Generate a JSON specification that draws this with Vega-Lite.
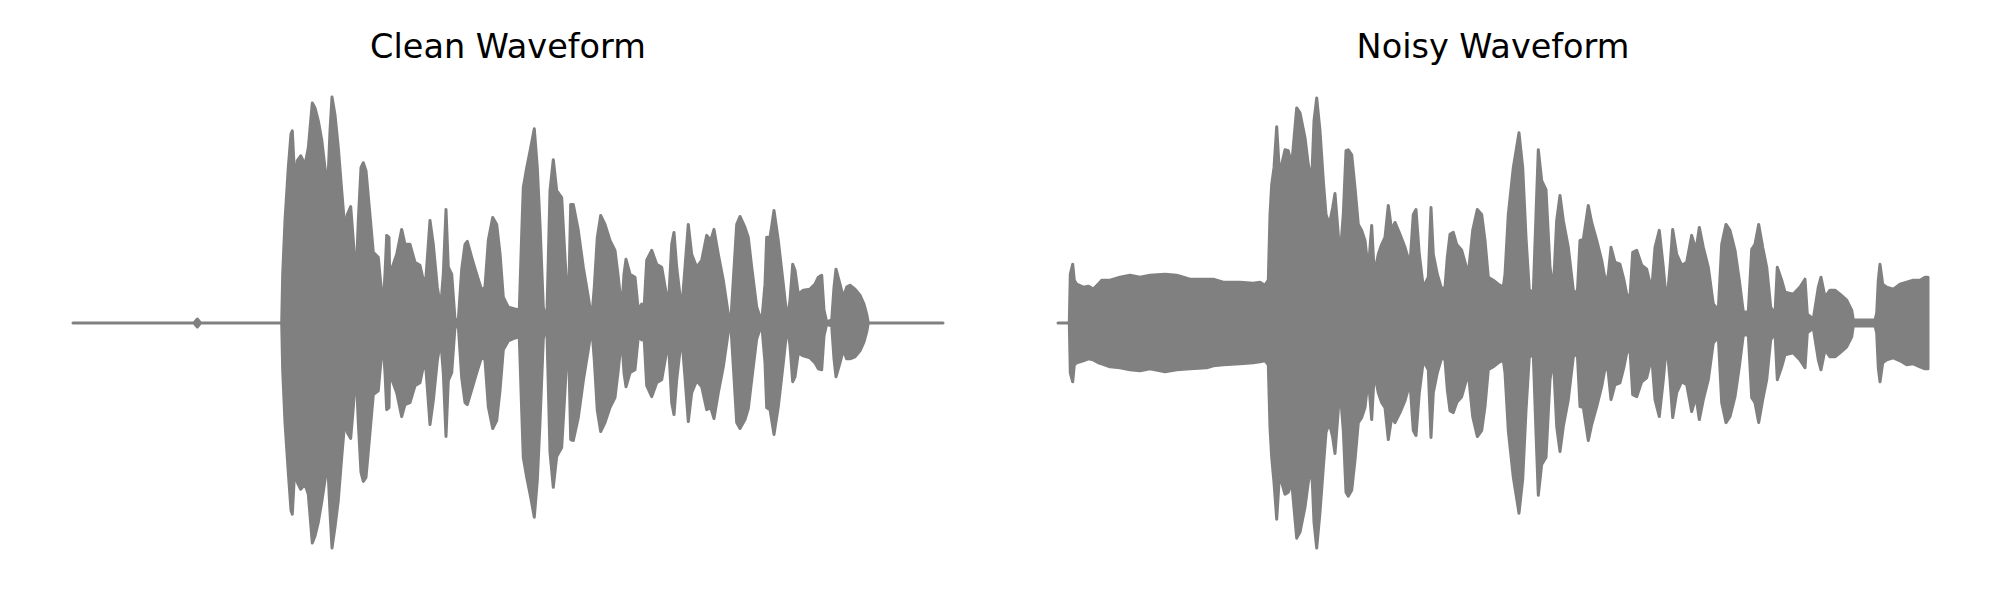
{
"$schema":"https://vega.github.io/schema/vega-lite/v6.json",
"autosize":{"type":"none"},
"padding":{"left":73,"top":93,"right":1927,"bottom":507},
"background":"white",
"config":{"view":{"stroke":null},"title":{"font":"DejaVu Sans","fontSize":33.5,"fontWeight":"normal","color":"#000000","offset":28,"frame":"group","baseline":"alphabetic","anchor":"middle"}},
"datasets":{
"clean":[{"t":0,"hi":0,"lo":0},{"t":121,"hi":0,"lo":0},{"t":124.3,"hi":4,"lo":-4},{"t":127.5,"hi":0,"lo":0},{"t":208.7,"hi":0,"lo":0},{"t":209.7,"hi":49,"lo":-48},{"t":212,"hi":103,"lo":-100},{"t":215.3,"hi":156,"lo":-150},{"t":218,"hi":190,"lo":-188},{"t":219.3,"hi":193,"lo":-192},{"t":222,"hi":139,"lo":-142},{"t":224.3,"hi":163,"lo":-160},{"t":227.7,"hi":168,"lo":-167},{"t":232,"hi":159,"lo":-162},{"t":235.3,"hi":176,"lo":-172},{"t":239.3,"hi":221,"lo":-221},{"t":242,"hi":216,"lo":-214},{"t":245.3,"hi":203,"lo":-200},{"t":248.7,"hi":184,"lo":-180},{"t":252,"hi":156,"lo":-158},{"t":254.7,"hi":136,"lo":-140},{"t":257,"hi":193,"lo":-190},{"t":259,"hi":227,"lo":-226},{"t":262,"hi":209,"lo":-205},{"t":265.3,"hi":176,"lo":-178},{"t":268.7,"hi":133,"lo":-135},{"t":272,"hi":93,"lo":-96},{"t":274.3,"hi":109,"lo":-110},{"t":277.7,"hi":117,"lo":-116},{"t":280.3,"hi":83,"lo":-85},{"t":283,"hi":43,"lo":-45},{"t":285.3,"hi":103,"lo":-100},{"t":288,"hi":156,"lo":-150},{"t":290.3,"hi":161,"lo":-159},{"t":293,"hi":153,"lo":-155},{"t":296.3,"hi":116,"lo":-118},{"t":300.3,"hi":71,"lo":-72},{"t":305.3,"hi":66,"lo":-68},{"t":308.7,"hi":29,"lo":-30},{"t":310.3,"hi":23,"lo":-24},{"t":312,"hi":49,"lo":-50},{"t":313.7,"hi":88,"lo":-87},{"t":316,"hi":86,"lo":-85},{"t":317,"hi":29,"lo":-30},{"t":319.3,"hi":56,"lo":-58},{"t":323.7,"hi":69,"lo":-70},{"t":328.7,"hi":94,"lo":-94},{"t":332,"hi":79,"lo":-82},{"t":337,"hi":79,"lo":-80},{"t":342,"hi":61,"lo":-63},{"t":347,"hi":58,"lo":-60},{"t":350.3,"hi":43,"lo":-44},{"t":353,"hi":46,"lo":-47},{"t":357,"hi":103,"lo":-102},{"t":360.3,"hi":79,"lo":-78},{"t":364.3,"hi":36,"lo":-38},{"t":367.7,"hi":16,"lo":-17},{"t":370.3,"hi":49,"lo":-50},{"t":373,"hi":114,"lo":-114},{"t":375.3,"hi":56,"lo":-58},{"t":378.7,"hi":49,"lo":-50},{"t":382,"hi":4,"lo":-4},{"t":385.3,"hi":3,"lo":-3},{"t":388.7,"hi":54,"lo":-55},{"t":392,"hi":79,"lo":-80},{"t":394.3,"hi":82,"lo":-82},{"t":398.7,"hi":66,"lo":-67},{"t":403.7,"hi":49,"lo":-50},{"t":408.7,"hi":33,"lo":-34},{"t":412,"hi":36,"lo":-37},{"t":415.3,"hi":83,"lo":-84},{"t":419.7,"hi":106,"lo":-106},{"t":423.7,"hi":99,"lo":-98},{"t":427,"hi":70,"lo":-68},{"t":430.3,"hi":26,"lo":-27},{"t":435.3,"hi":16,"lo":-18},{"t":442,"hi":14,"lo":-15},{"t":446.3,"hi":13,"lo":-14},{"t":448.7,"hi":89,"lo":-88},{"t":450.3,"hi":136,"lo":-135},{"t":453.7,"hi":156,"lo":-155},{"t":457.7,"hi":176,"lo":-175},{"t":461.3,"hi":195,"lo":-195},{"t":464.3,"hi":156,"lo":-158},{"t":467,"hi":99,"lo":-100},{"t":470.3,"hi":16,"lo":-16},{"t":473.7,"hi":0,"lo":0},{"t":477,"hi":133,"lo":-130},{"t":480.3,"hi":164,"lo":-165},{"t":483.7,"hi":133,"lo":-134},{"t":488.7,"hi":126,"lo":-125},{"t":492,"hi":66,"lo":-68},{"t":495.3,"hi":9,"lo":-9},{"t":497.7,"hi":119,"lo":-117},{"t":500.3,"hi":119,"lo":-118},{"t":505.3,"hi":93,"lo":-95},{"t":510.3,"hi":56,"lo":-58},{"t":515.3,"hi":26,"lo":-27},{"t":518.7,"hi":4,"lo":-4},{"t":521.3,"hi":36,"lo":-37},{"t":524.3,"hi":86,"lo":-88},{"t":527.7,"hi":108,"lo":-109},{"t":532,"hi":99,"lo":-100},{"t":537,"hi":83,"lo":-85},{"t":542,"hi":73,"lo":-75},{"t":545.3,"hi":46,"lo":-47},{"t":548.7,"hi":13,"lo":-14},{"t":551,"hi":49,"lo":-50},{"t":553,"hi":64,"lo":-64},{"t":557,"hi":49,"lo":-50},{"t":562,"hi":46,"lo":-47},{"t":565.3,"hi":13,"lo":-14},{"t":568.7,"hi":19,"lo":-17},{"t":571,"hi":13,"lo":-13},{"t":573.7,"hi":63,"lo":-63},{"t":578.7,"hi":73,"lo":-74},{"t":583.7,"hi":59,"lo":-60},{"t":588.7,"hi":56,"lo":-57},{"t":592.7,"hi":33,"lo":-34},{"t":595.3,"hi":16,"lo":-16},{"t":598.7,"hi":79,"lo":-80},{"t":601,"hi":91,"lo":-92},{"t":603.7,"hi":56,"lo":-57},{"t":608.7,"hi":13,"lo":-13},{"t":612,"hi":56,"lo":-55},{"t":615.3,"hi":99,"lo":-99},{"t":618.7,"hi":69,"lo":-70},{"t":623.7,"hi":56,"lo":-58},{"t":628.7,"hi":63,"lo":-64},{"t":633.7,"hi":88,"lo":-87},{"t":637.7,"hi":83,"lo":-85},{"t":641,"hi":94,"lo":-96},{"t":645.3,"hi":69,"lo":-70},{"t":650.3,"hi":43,"lo":-44},{"t":655.3,"hi":9,"lo":-9},{"t":657.7,"hi":0,"lo":0},{"t":660.3,"hi":43,"lo":-43},{"t":663.7,"hi":99,"lo":-100},{"t":667,"hi":107,"lo":-106},{"t":672,"hi":96,"lo":-97},{"t":675.3,"hi":86,"lo":-86},{"t":678.7,"hi":56,"lo":-57},{"t":683.7,"hi":16,"lo":-16},{"t":688.7,"hi":1,"lo":-1},{"t":692,"hi":39,"lo":-40},{"t":693.7,"hi":86,"lo":-85},{"t":697,"hi":86,"lo":-87},{"t":701,"hi":113,"lo":-112},{"t":705.3,"hi":83,"lo":-84},{"t":710.3,"hi":39,"lo":-40},{"t":714.3,"hi":3,"lo":-3},{"t":717,"hi":23,"lo":-23},{"t":719.7,"hi":59,"lo":-59},{"t":722,"hi":53,"lo":-54},{"t":725.3,"hi":29,"lo":-30},{"t":730.3,"hi":33,"lo":-33},{"t":737,"hi":34,"lo":-35},{"t":742,"hi":39,"lo":-40},{"t":745.3,"hi":46,"lo":-46},{"t":748.7,"hi":48,"lo":-47},{"t":751,"hi":13,"lo":-13},{"t":753.7,"hi":1,"lo":-1},{"t":758.7,"hi":3,"lo":-3},{"t":761,"hi":36,"lo":-36},{"t":763,"hi":54,"lo":-54},{"t":767,"hi":39,"lo":-40},{"t":770.3,"hi":26,"lo":-27},{"t":773.7,"hi":36,"lo":-36},{"t":777,"hi":38,"lo":-36},{"t":782,"hi":34,"lo":-34},{"t":787,"hi":28,"lo":-28},{"t":791,"hi":19,"lo":-19},{"t":793.7,"hi":9,"lo":-9},{"t":795.3,"hi":0,"lo":0},{"t":870,"hi":0,"lo":0}],
"noisy":[{"t":0,"hi":0,"lo":0},{"t":11.3,"hi":0,"lo":0},{"t":12.3,"hi":49,"lo":-50},{"t":14.7,"hi":59,"lo":-59},{"t":16.3,"hi":43,"lo":-42},{"t":18.7,"hi":39,"lo":-40},{"t":25.3,"hi":36,"lo":-38},{"t":30.3,"hi":37,"lo":-36},{"t":35.3,"hi":34,"lo":-37},{"t":40.3,"hi":39,"lo":-40},{"t":43.7,"hi":43,"lo":-41},{"t":52,"hi":43,"lo":-44},{"t":62,"hi":46,"lo":-45},{"t":72,"hi":48,"lo":-47},{"t":82,"hi":46,"lo":-48},{"t":92,"hi":48,"lo":-46},{"t":107,"hi":49,"lo":-49},{"t":118.7,"hi":48,"lo":-47},{"t":132,"hi":44,"lo":-46},{"t":148.7,"hi":44,"lo":-45},{"t":155.3,"hi":44,"lo":-43},{"t":165.3,"hi":41,"lo":-42},{"t":182,"hi":41,"lo":-41},{"t":195.3,"hi":40,"lo":-40},{"t":202,"hi":41,"lo":-39},{"t":207,"hi":38,"lo":-38},{"t":210.3,"hi":43,"lo":-42},{"t":212,"hi":109,"lo":-105},{"t":213.7,"hi":139,"lo":-135},{"t":216,"hi":156,"lo":-160},{"t":218.7,"hi":197,"lo":-197},{"t":221.3,"hi":153,"lo":-155},{"t":223.7,"hi":159,"lo":-160},{"t":227,"hi":174,"lo":-172},{"t":230.3,"hi":173,"lo":-170},{"t":233.7,"hi":159,"lo":-160},{"t":238.7,"hi":216,"lo":-216},{"t":242,"hi":211,"lo":-210},{"t":247,"hi":186,"lo":-185},{"t":250.3,"hi":159,"lo":-160},{"t":253.7,"hi":143,"lo":-145},{"t":256,"hi":203,"lo":-200},{"t":258.7,"hi":226,"lo":-226},{"t":262,"hi":193,"lo":-190},{"t":265.3,"hi":143,"lo":-145},{"t":268,"hi":109,"lo":-110},{"t":271.3,"hi":99,"lo":-100},{"t":274.7,"hi":116,"lo":-115},{"t":277,"hi":130,"lo":-131},{"t":279.7,"hi":96,"lo":-95},{"t":282,"hi":66,"lo":-66},{"t":285.3,"hi":109,"lo":-108},{"t":288,"hi":173,"lo":-170},{"t":290.3,"hi":174,"lo":-174},{"t":293.7,"hi":169,"lo":-168},{"t":297,"hi":136,"lo":-138},{"t":300.3,"hi":99,"lo":-100},{"t":303.7,"hi":93,"lo":-95},{"t":307,"hi":83,"lo":-85},{"t":310.3,"hi":53,"lo":-55},{"t":313.7,"hi":98,"lo":-97},{"t":316.3,"hi":49,"lo":-50},{"t":320.3,"hi":69,"lo":-70},{"t":323.7,"hi":79,"lo":-80},{"t":327,"hi":86,"lo":-85},{"t":330.3,"hi":118,"lo":-117},{"t":333.7,"hi":93,"lo":-95},{"t":337,"hi":101,"lo":-100},{"t":342,"hi":89,"lo":-90},{"t":347,"hi":76,"lo":-78},{"t":352,"hi":59,"lo":-60},{"t":355.3,"hi":109,"lo":-108},{"t":358,"hi":114,"lo":-113},{"t":361.3,"hi":69,"lo":-70},{"t":365.3,"hi":36,"lo":-38},{"t":370.3,"hi":46,"lo":-47},{"t":373,"hi":116,"lo":-115},{"t":375.3,"hi":69,"lo":-70},{"t":379.3,"hi":49,"lo":-50},{"t":383.7,"hi":34,"lo":-35},{"t":387,"hi":36,"lo":-37},{"t":389.3,"hi":66,"lo":-67},{"t":392,"hi":89,"lo":-88},{"t":395.3,"hi":91,"lo":-90},{"t":398.7,"hi":79,"lo":-80},{"t":403.7,"hi":73,"lo":-74},{"t":407,"hi":61,"lo":-62},{"t":410.3,"hi":49,"lo":-50},{"t":414.7,"hi":93,"lo":-94},{"t":419.3,"hi":114,"lo":-114},{"t":423.7,"hi":109,"lo":-108},{"t":427,"hi":83,"lo":-84},{"t":430.3,"hi":46,"lo":-47},{"t":435.3,"hi":43,"lo":-44},{"t":440.3,"hi":39,"lo":-40},{"t":445.3,"hi":36,"lo":-37},{"t":447,"hi":49,"lo":-50},{"t":450.3,"hi":109,"lo":-108},{"t":455.3,"hi":156,"lo":-155},{"t":461,"hi":191,"lo":-191},{"t":464.7,"hi":156,"lo":-157},{"t":468,"hi":86,"lo":-88},{"t":471.3,"hi":33,"lo":-34},{"t":475.3,"hi":31,"lo":-32},{"t":478,"hi":109,"lo":-110},{"t":480.3,"hi":174,"lo":-173},{"t":483.7,"hi":143,"lo":-142},{"t":488,"hi":134,"lo":-135},{"t":492,"hi":56,"lo":-57},{"t":495.3,"hi":33,"lo":-34},{"t":498.7,"hi":103,"lo":-104},{"t":502,"hi":128,"lo":-129},{"t":505.3,"hi":103,"lo":-104},{"t":510.3,"hi":76,"lo":-77},{"t":515.3,"hi":33,"lo":-34},{"t":519.3,"hi":29,"lo":-30},{"t":522,"hi":83,"lo":-84},{"t":525.3,"hi":84,"lo":-85},{"t":530.3,"hi":118,"lo":-118},{"t":533.7,"hi":101,"lo":-102},{"t":538.7,"hi":83,"lo":-84},{"t":543.7,"hi":63,"lo":-64},{"t":548,"hi":39,"lo":-40},{"t":550.3,"hi":49,"lo":-50},{"t":553,"hi":76,"lo":-77},{"t":557,"hi":61,"lo":-62},{"t":562,"hi":59,"lo":-60},{"t":566,"hi":43,"lo":-44},{"t":568.7,"hi":29,"lo":-30},{"t":572,"hi":26,"lo":-27},{"t":574.7,"hi":71,"lo":-72},{"t":578.7,"hi":73,"lo":-74},{"t":583.7,"hi":58,"lo":-59},{"t":588.7,"hi":54,"lo":-55},{"t":593.7,"hi":33,"lo":-34},{"t":597,"hi":76,"lo":-77},{"t":601.3,"hi":93,"lo":-94},{"t":605.3,"hi":56,"lo":-57},{"t":608.7,"hi":19,"lo":-20},{"t":612,"hi":56,"lo":-57},{"t":614.7,"hi":94,"lo":-95},{"t":618.7,"hi":69,"lo":-70},{"t":623.7,"hi":58,"lo":-59},{"t":628.7,"hi":61,"lo":-62},{"t":633.7,"hi":88,"lo":-89},{"t":638,"hi":73,"lo":-74},{"t":641.3,"hi":96,"lo":-97},{"t":645.3,"hi":76,"lo":-77},{"t":650.3,"hi":56,"lo":-57},{"t":655.3,"hi":19,"lo":-20},{"t":660.3,"hi":13,"lo":-14},{"t":663.7,"hi":79,"lo":-80},{"t":668,"hi":99,"lo":-100},{"t":672,"hi":93,"lo":-94},{"t":677,"hi":73,"lo":-74},{"t":681.3,"hi":43,"lo":-44},{"t":685.3,"hi":11,"lo":-12},{"t":690.3,"hi":11,"lo":-12},{"t":693.7,"hi":74,"lo":-75},{"t":697,"hi":79,"lo":-80},{"t":700.7,"hi":99,"lo":-100},{"t":704.7,"hi":76,"lo":-77},{"t":708.7,"hi":56,"lo":-57},{"t":712.7,"hi":16,"lo":-17},{"t":717,"hi":9,"lo":-10},{"t":719.3,"hi":56,"lo":-57},{"t":723.7,"hi":43,"lo":-44},{"t":727,"hi":31,"lo":-32},{"t":735.3,"hi":29,"lo":-30},{"t":742,"hi":36,"lo":-37},{"t":747,"hi":44,"lo":-45},{"t":749.3,"hi":9,"lo":-10},{"t":755.3,"hi":4,"lo":-5},{"t":760.3,"hi":36,"lo":-37},{"t":763,"hi":46,"lo":-47},{"t":767,"hi":26,"lo":-27},{"t":772,"hi":33,"lo":-34},{"t":777,"hi":33,"lo":-34},{"t":782,"hi":29,"lo":-30},{"t":788.7,"hi":23,"lo":-24},{"t":793.7,"hi":13,"lo":-14},{"t":795.3,"hi":3,"lo":-3},{"t":817,"hi":3,"lo":-3},{"t":818.7,"hi":10,"lo":-10},{"t":820.3,"hi":43,"lo":-45},{"t":822,"hi":59,"lo":-59},{"t":824.7,"hi":39,"lo":-40},{"t":828.7,"hi":36,"lo":-37},{"t":835.3,"hi":34,"lo":-35},{"t":842,"hi":39,"lo":-38},{"t":848.7,"hi":41,"lo":-42},{"t":855.3,"hi":43,"lo":-41},{"t":862,"hi":43,"lo":-44},{"t":867,"hi":46,"lo":-46},{"t":870,"hi":46,"lo":-46}]
},
"bounds":"flush",
"spacing":115,
"hconcat":[
{"title":{"text":"Clean Waveform"},"width":870,"height":460,"data":{"name":"clean"},
"mark":{"type":"area","color":"#808080","stroke":"#808080","strokeWidth":3,"strokeJoin":"round","opacity":1},
"encoding":{"x":{"field":"t","type":"quantitative","scale":{"domain":[0,870],"nice":false,"zero":false},"axis":null},
"y":{"field":"hi","type":"quantitative","scale":{"domain":[-231,231],"nice":false},"axis":null},
"y2":{"field":"lo"}}},
{"title":{"text":"Noisy Waveform"},"width":870,"height":460,"data":{"name":"noisy"},
"mark":{"type":"area","color":"#808080","stroke":"#808080","strokeWidth":3,"strokeJoin":"round","opacity":1},
"encoding":{"x":{"field":"t","type":"quantitative","scale":{"domain":[0,870],"nice":false,"zero":false},"axis":null},
"y":{"field":"hi","type":"quantitative","scale":{"domain":[-231,231],"nice":false},"axis":null},
"y2":{"field":"lo"}}}
]
}
